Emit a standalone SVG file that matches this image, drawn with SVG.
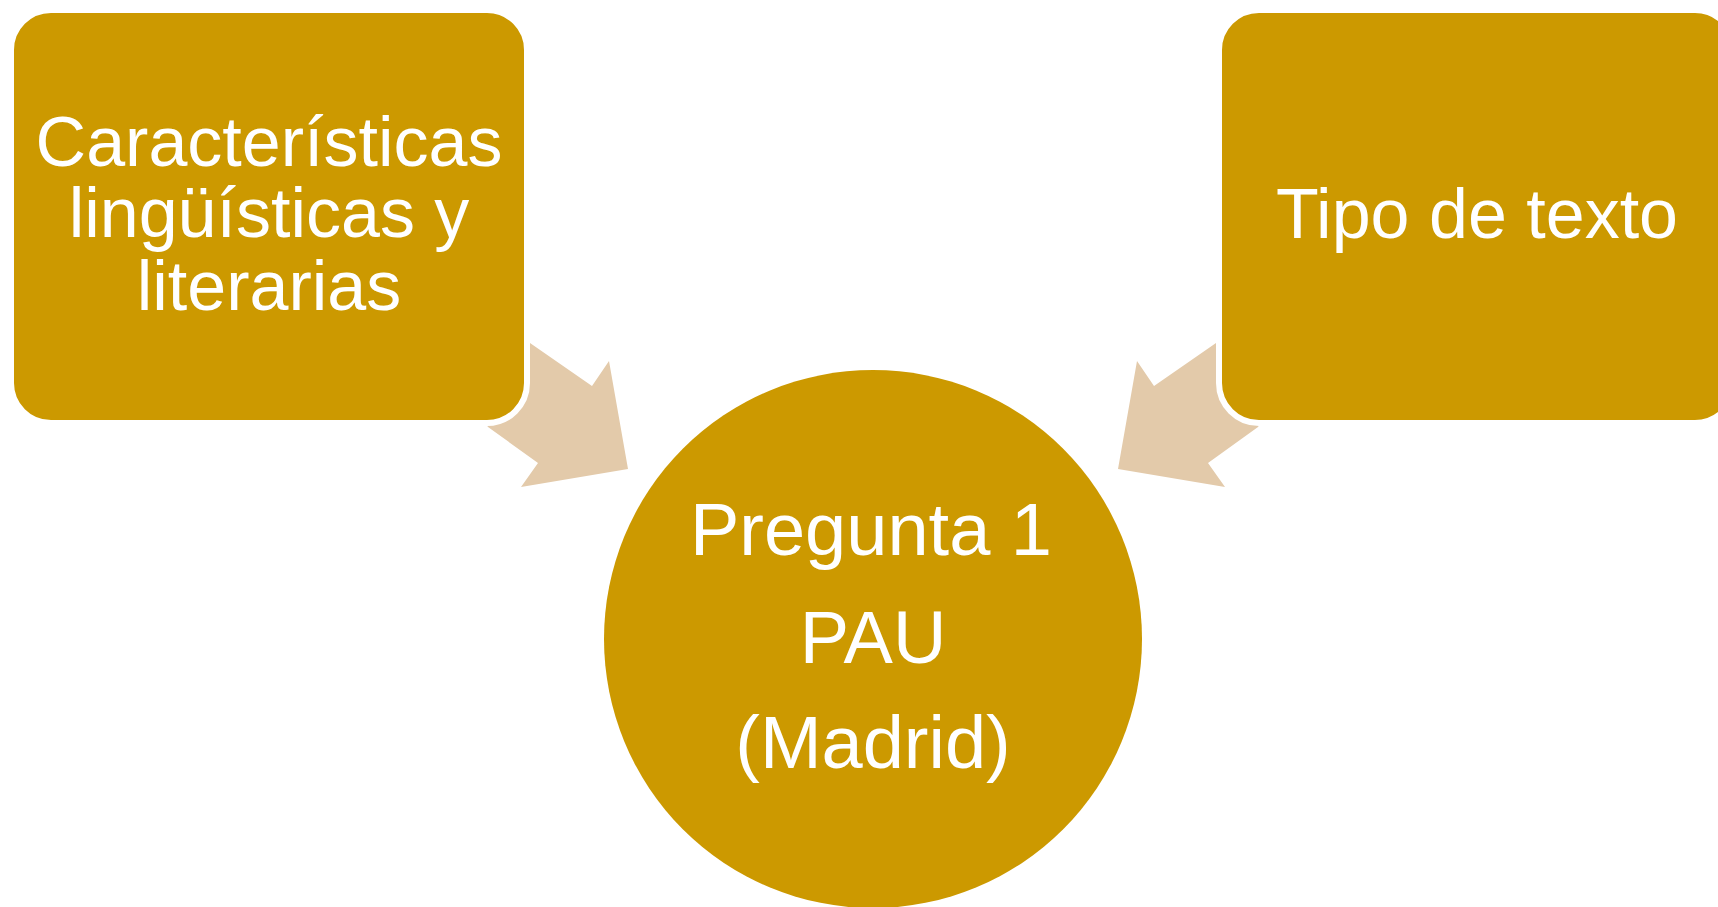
<svg xmlns="http://www.w3.org/2000/svg" width="1718" height="907" viewBox="0 0 1718 907">
<style>
.box{fill:#CC9900;stroke:#FFFFFF;stroke-width:6}
.arrow{fill:#E3CAAA;stroke:none}
.lbl{fill:#FFFFFF;font-family:"Liberation Sans",Arial,Helvetica,sans-serif;font-size:70px;text-anchor:middle}
.big{font-size:74px}
</style>
<rect width="1718" height="907" fill="#FFFFFF"/>
<g id="connectors">
<polygon class="arrow" points="530,343 592,386 609,361 628,469 521,487 538,463 488,427 470,400"/>
<polygon class="arrow" points="1216,343 1154,386 1137,361 1118,469 1225,487 1208,463 1258,427 1276,400"/>
</g>
<g id="node-caracteristicas">
<rect class="box" x="11" y="10" width="516" height="413" rx="40" ry="40"/>
<text class="lbl" x="269" y="166">Características</text>
<text class="lbl" x="269" y="237">lingüísticas y</text>
<text class="lbl" x="269" y="310">literarias</text>
</g>
<g id="node-tipo">
<rect class="box" x="1219" y="10" width="516" height="413" rx="40" ry="40"/>
<text class="lbl" x="1477" y="238">Tipo de texto</text>
</g>
<g id="node-pregunta">
<circle cx="873" cy="639" r="269" fill="#CC9900"/>
<text class="lbl big" x="871" y="555">Pregunta 1</text>
<text class="lbl big" x="873" y="663">PAU</text>
<text class="lbl big" x="873" y="768">(Madrid)</text>
</g>
</svg>
